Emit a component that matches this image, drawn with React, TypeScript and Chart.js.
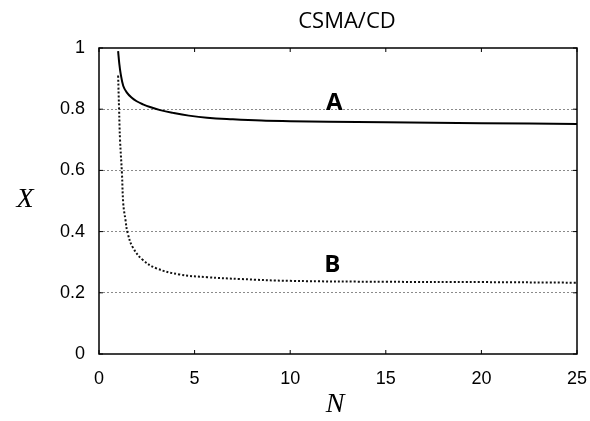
import React, { useEffect, useRef } from "react";
import { Chart, registerables } from "chart.js";

Chart.register(...registerables);

const titleText = "CSMA/CD";
const xTitle = "N";
const yTitle = "X";
const labelA = "A";
const labelB = "B";

const xTicks = [0, 5, 10, 15, 20, 25];
const yTicks = [0, 0.2, 0.4, 0.6, 0.8, 1];

const A_N = [1, 1.06, 1.13, 1.27, 1.45, 1.7, 1.97, 2.3, 2.67, 3.2, 3.87, 4.7, 5.65, 7, 8.5, 10, 12, 15, 20, 25];
const A_X = [0.99, 0.95, 0.917, 0.876, 0.855, 0.838, 0.826, 0.816, 0.807, 0.797, 0.788, 0.779, 0.772, 0.767, 0.763, 0.761, 0.759, 0.757, 0.754, 0.752];

const B_N = [1, 1.05, 1.1, 1.2, 1.27, 1.38, 1.5, 1.78, 2.3, 3, 4.2, 5.65, 7.4, 10, 15, 20, 25];
const B_X = [0.91, 0.8, 0.7, 0.59, 0.49, 0.44, 0.395, 0.347, 0.307, 0.28, 0.26, 0.251, 0.245, 0.239, 0.236, 0.235, 0.233];

const decor = {
  id: "decor",
  beforeDraw(chart: any) {
    const { ctx } = chart;
    ctx.save();
    ctx.fillStyle = "#fff";
    ctx.fillRect(0, 0, chart.width, chart.height);
    ctx.restore();
  },
  afterDraw(chart: any) {
    const { ctx, chartArea: ca, scales } = chart;
    const xs = scales.x;
    const ys = scales.y;
    ctx.save();
    ctx.strokeStyle = "#000";
    ctx.lineWidth = 1.5;
    ctx.strokeRect(ca.left, ca.top, ca.right - ca.left, ca.bottom - ca.top);
    ctx.lineWidth = 1;
    ctx.beginPath();
    for (const v of xTicks) {
      const px = xs.getPixelForValue(v);
      ctx.moveTo(px, ca.bottom);
      ctx.lineTo(px, ca.bottom - 4);
      ctx.moveTo(px, ca.top);
      ctx.lineTo(px, ca.top + 4);
    }
    for (const v of yTicks) {
      const py = ys.getPixelForValue(v);
      ctx.moveTo(ca.left, py);
      ctx.lineTo(ca.left + 4, py);
      ctx.moveTo(ca.right, py);
      ctx.lineTo(ca.right - 4, py);
    }
    ctx.stroke();

    ctx.fillStyle = "#000";
    ctx.textAlign = "center";
    ctx.textBaseline = "middle";
    ctx.font = '22px "Open Sans"';
    ctx.fillText(titleText, 347, 22);
    ctx.font = 'bold 24px "Open Sans"';
    ctx.fillText(labelA, xs.getPixelForValue(12.3), ys.getPixelForValue(0.82));
    ctx.fillText(labelB, xs.getPixelForValue(12.2), ys.getPixelForValue(0.29));
    ctx.font = 'italic 28px "Liberation Serif"';
    ctx.fillText(yTitle, 25, 200);
    ctx.fillText(xTitle, 335, 405);
    ctx.restore();
  },
};

export default function App() {
  const ref = useRef<HTMLCanvasElement>(null);
  useEffect(() => {
    if (!ref.current) return;
    const chart = new Chart(ref.current, {
      type: "line",
      data: {
        datasets: [
          {
            label: labelA,
            data: A_N.map((n, i) => ({ x: n, y: A_X[i] })),
            borderColor: "#000",
            borderWidth: 2,
            pointRadius: 0,
            tension: 0.4,
            fill: false,
          },
          {
            label: labelB,
            data: B_N.map((n, i) => ({ x: n, y: B_X[i] })),
            borderColor: "#111",
            borderWidth: 2,
            borderDash: [2, 2],
            pointRadius: 0,
            tension: 0.4,
            fill: false,
          },
        ],
      },
      options: {
        animation: false,
        responsive: false,
        layout: { padding: { top: 48, right: 13, left: 0, bottom: 0 } },
        plugins: { legend: { display: false }, title: { display: false }, tooltip: { enabled: false } },
        scales: {
          x: {
            type: "linear",
            min: 0,
            max: 25,
            afterFit: (s: any) => { s.height = 67; s.paddingLeft = 0; s.paddingRight = 0; },
            afterBuildTicks: (s: any) => { s.ticks = xTicks.map((v) => ({ value: v })); },
            ticks: { padding: 14, color: "#000", font: { family: "Liberation Sans", size: 18 }, callback: (v: any) => String(v) },
            grid: { display: false, drawTicks: false },
            border: { display: false },
          },
          y: {
            type: "linear",
            min: 0,
            max: 1,
            afterFit: (s: any) => { s.width = 99; s.paddingTop = 0; s.paddingBottom = 0; },
            afterBuildTicks: (s: any) => { s.ticks = yTicks.map((v) => ({ value: v })); },
            ticks: { padding: 14, color: "#000", font: { family: "Liberation Sans", size: 18 }, callback: (v: any) => String(v) },
            grid: {
              drawTicks: false,
              lineWidth: 1,
              color: (c: any) => (c.tick && (c.tick.value === 0 || c.tick.value === 1) ? "rgba(0,0,0,0)" : "#8a8a8a"),
            },
            border: { display: false, dash: [2, 2] },
          },
        },
      },
      plugins: [decor],
    } as any);
    return () => chart.destroy();
  }, []);
  return (
    <canvas
      ref={ref}
      width={590}
      height={421}
      style={{ position: "absolute", left: 0, top: 0, width: 590, height: 421 }}
    />
  );
}
